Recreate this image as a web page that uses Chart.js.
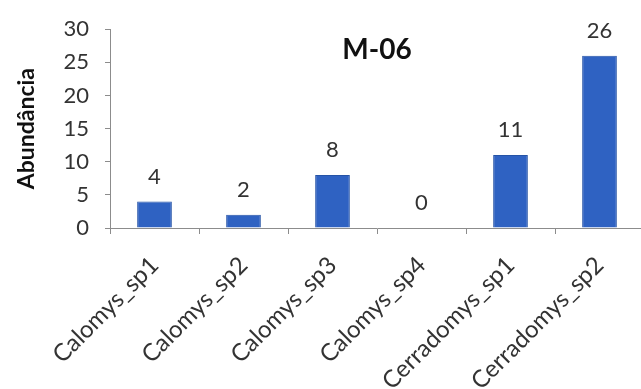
<!DOCTYPE html>
<html>
<head>
<meta charset="utf-8">
<script src="https://cdn.jsdelivr.net/npm/chart.js@4"></script>
<style>
  html, body { margin: 0; padding: 0; background: #ffffff; overflow: hidden; }
  #wrap { width: 641px; height: 389px; overflow: hidden; position: relative; }
  canvas { display: block; }
</style>
</head>
<body>
<div id="wrap"><canvas id="chart" width="660" height="400"></canvas></div>
<script>
// Abundance of small mammal species at station M-06
const chartTitle = 'M-06';
const axisTitle = 'Abundância';
const species = ['Calomys_sp1', 'Calomys_sp2', 'Calomys_sp3', 'Calomys_sp4', 'Cerradomys_sp1', 'Cerradomys_sp2'];
const abundance = [4, 2, 8, 0, 11, 26];
const yTicks = [0, 5, 10, 15, 20, 25, 30];

const FONT = 'Lato, "Open Sans", sans-serif';
const TEXT = '#333333';
const AXIS = '#8c8c8c';

// Title drawn inside the plot area, and value labels above each bar
const annotate = {
  id: 'annotate',
  afterDatasetsDraw(chart) {
    const ctx = chart.ctx;
    const area = chart.chartArea;
    ctx.save();
    ctx.fillStyle = '#111111';
    ctx.font = 'bold 28px ' + FONT;
    ctx.textAlign = 'center';
    ctx.textBaseline = 'middle';
    ctx.fillText(chartTitle, (area.left + area.right) / 2, 50);

    ctx.fillStyle = TEXT;
    ctx.font = '22px ' + FONT;
    const meta = chart.getDatasetMeta(0);
    meta.data.forEach((bar, i) => {
      ctx.fillText(String(abundance[i]), bar.x, bar.y - 25);
    });
    ctx.restore();
  }
};

new Chart(document.getElementById('chart'), {
  type: 'bar',
  data: {
    labels: species,
    datasets: [{
      data: abundance,
      backgroundColor: '#2f62c2',
      borderColor: '#2553a6',
      borderWidth: 1,
      categoryPercentage: 1,
      barPercentage: 0.39
    }]
  },
  options: {
    responsive: false,
    animation: false,
    layout: { padding: { top: 25, right: 16, bottom: 0, left: 0 } },
    plugins: {
      legend: { display: false },
      tooltip: { enabled: false }
    },
    scales: {
      y: {
        min: 0,
        max: 30,
        afterBuildTicks(scale) {
          scale.ticks = yTicks.map(v => ({ value: v }));
        },
        afterFit(scale) { scale.width = 110; },
        border: { color: AXIS, width: 1 },
        grid: { drawOnChartArea: false, drawTicks: true, tickLength: 5, color: AXIS },
        ticks: { color: TEXT, font: { family: FONT, size: 22 }, padding: 16 },
        title: {
          display: true,
          text: axisTitle,
          color: '#111111',
          font: { family: FONT, size: 23, weight: 'bold' },
          padding: { top: 13, bottom: 0 }
        }
      },
      x: {
        afterFit(scale) { scale.height = 172; },
        border: { color: AXIS, width: 1 },
        grid: { drawOnChartArea: false, drawTicks: true, tickLength: 6, color: AXIS, offset: true },
        ticks: {
          color: TEXT,
          font: { family: FONT, size: 24 },
          minRotation: 45,
          maxRotation: 45,
          autoSkip: false,
          padding: 17
        }
      }
    }
  },
  plugins: [annotate]
});
</script>
</body>
</html>
